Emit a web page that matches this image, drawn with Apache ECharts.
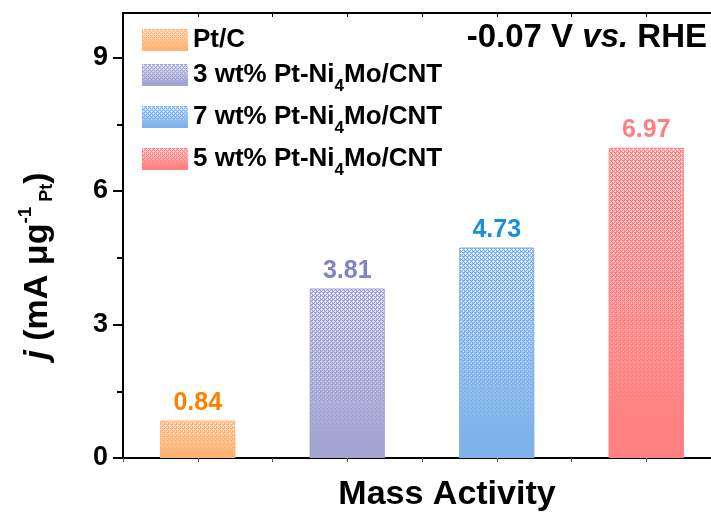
<!DOCTYPE html>
<html><head><meta charset="utf-8">
<script src="https://cdn.jsdelivr.net/npm/echarts@6/dist/echarts.min.js"></script>
<style>html,body{margin:0;padding:0;background:#fff}#c{width:711px;height:516px}</style>
</head><body><div id="c"></div>
<script>
// ---- data ----
const categories = ['Pt/C', '3 wt% Pt-Ni4Mo/CNT', '7 wt% Pt-Ni4Mo/CNT', '5 wt% Pt-Ni4Mo/CNT'];
const values = [0.84, 3.81, 4.73, 6.97];
const yTickValues = [0, 3, 6, 9];
const yMinorTickValues = [1.5, 4.5, 7.5];
const yLabels = ['0', '3', '6', '9'];
const xAxisTitle = 'Mass Activity';
const cornerNote = ['-0.07 V ', 'vs.', ' RHE'];

// ---- styles ----
const barColors = ['#FFB273', '#A4A4D4', '#7FB2EA', '#FF8080'];
const labelColors = ['#FF8000', '#8282C6', '#1A8FDC', '#FF8080'];
const FONT = '"Liberation Sans", Arial, sans-serif';

function hexToRgb(h) {
  const n = parseInt(h.slice(1), 16);
  return [(n >> 16) & 255, (n >> 8) & 255, n & 255];
}
function rgba(h, a) { const c = hexToRgb(h); return 'rgba(' + c[0] + ',' + c[1] + ',' + c[2] + ',' + a + ')'; }

function drawDots(g, w, h) {
  for (let y = 0; y < h; y += 4) {
    for (let x = 0; x < w; x += 4) {
      [[1, 1], [3, 3]].forEach(function (p) {
        const cx = x + p[0], cy = y + p[1];
        g.fillStyle = 'rgba(255,255,255,0.9)';
        g.fillRect(cx, cy, 1, 1);
        g.fillStyle = 'rgba(255,255,255,0.6)';
        g.fillRect(cx - 1, cy, 1, 1); g.fillRect(cx + 1, cy, 1, 1);
        g.fillRect(cx, cy - 1, 1, 1); g.fillRect(cx, cy + 1, 1, 1);
      });
    }
  }
}
function makePattern(hex) {
  const c = document.createElement('canvas');
  c.width = 4; c.height = 4;
  const g = c.getContext('2d');
  g.fillStyle = hex; g.fillRect(0, 0, 4, 4);
  drawDots(g, 4, 4);
  return c;
}
function fadeStops(hex) {
  return [
    { offset: 0, color: rgba(hex, 0) },
    { offset: 0.45, color: rgba(hex, 0.45) },
    { offset: 0.9, color: rgba(hex, 1) },
    { offset: 1, color: rgba(hex, 1) }
  ];
}
function makeSwatch(hex) {
  const w = 46, h = 22;
  const c = document.createElement('canvas');
  c.width = w; c.height = h;
  const g = c.getContext('2d');
  g.fillStyle = hex; g.fillRect(0, 0, w, h);
  drawDots(g, w, h);
  const gr = g.createLinearGradient(0, 0, 0, h);
  fadeStops(hex).forEach(function (s) { gr.addColorStop(s.offset, s.color); });
  g.fillStyle = gr; g.fillRect(0, 0, w, h);
  return 'image://' + c.toDataURL();
}

const series = [];
categories.forEach(function (name, i) {
  const data = values.map(function (v, j) { return j === i ? v : '-'; });
  series.push({
    type: 'bar', name: name, data: data, barWidth: 75, barGap: '-100%',
    xAxisIndex: 0, yAxisIndex: 0, z: 2,
    itemStyle: { color: { image: makePattern(barColors[i]), repeat: 'repeat' }, borderColor: barColors[i], borderWidth: 1 },
    label: { show: true, position: 'top', distance: 5, color: labelColors[i], fontSize: 25, fontWeight: 'bold', fontFamily: FONT },
    emphasis: { disabled: true }
  });
  series.push({
    type: 'bar', name: name + ' ', data: data, barWidth: 75, barGap: '-100%',
    xAxisIndex: 0, yAxisIndex: 0, z: 3, silent: true,
    itemStyle: { color: { type: 'linear', x: 0, y: 0, x2: 0, y2: 1, colorStops: fadeStops(barColors[i]) } },
    emphasis: { disabled: true }
  });
});

const chart = echarts.init(document.getElementById('c'), null, { renderer: 'canvas' });
chart.setOption({
  animation: false,
  backgroundColor: '#fff',
  grid: { left: 123, top: 13, width: 598, height: 445, containLabel: false, outerBoundsMode: 'none' },
  legend: {
    orient: 'vertical', left: 137, top: 22, itemWidth: 46, itemHeight: 22, itemGap: 2,
    selectedMode: false,
    data: categories.map(function (n, i) { return { name: n, icon: makeSwatch(barColors[i]) }; }),
    formatter: function (n) { return '{b|' + n.replace('Ni4', 'Ni}{s|4}{b|') + '}'; },
    textStyle: {
      padding: [0, 0, 0, 0],
      rich: {
        b: { fontSize: 26, fontWeight: 'bold', fontFamily: FONT, color: '#000', lineHeight: 26 },
        s: { fontSize: 17, fontWeight: 'bold', fontFamily: FONT, color: '#000', lineHeight: 17, padding: [23, 0, 0, 0] }
      }
    }
  },
  xAxis: [
    { type: 'category', data: categories, position: 'bottom',
      axisLine: { show: true, onZero: false, lineStyle: { color: '#000', width: 2 } },
      axisTick: { show: false }, axisLabel: { show: false }, splitLine: { show: false } },
    { type: 'value', min: 0, max: 8, interval: 1, position: 'bottom',
      axisLine: { show: false }, axisTick: { show: true, length: 4, lineStyle: { color: '#555', width: 1 } },
      axisLabel: { show: false }, splitLine: { show: false } },
    { type: 'value', min: 0, max: 8, interval: 1, position: 'top',
      axisLine: { show: true, onZero: false, lineStyle: { color: '#000', width: 2 } },
      axisTick: { show: true, inside: true, length: 4, lineStyle: { color: '#000', width: 1 } },
      axisLabel: { show: false }, splitLine: { show: false } }
  ],
  yAxis: [
    { type: 'value', min: 0, max: 10, position: 'left',
      axisLine: { show: true, onZero: false, lineStyle: { color: '#000', width: 2 } },
      axisTick: { show: true, customValues: yTickValues, length: 10, lineStyle: { color: '#000', width: 2 } },
      axisLabel: { show: true, customValues: yTickValues, margin: 15, fontSize: 27, fontWeight: 'bold', color: '#000', fontFamily: FONT,
        formatter: function (v) { const k = yTickValues.indexOf(v); return k >= 0 ? yLabels[k] : ''; } },
      splitLine: { show: false } },
    { type: 'value', min: 0, max: 10, position: 'left',
      axisLine: { show: false, onZero: false },
      axisTick: { show: true, customValues: yMinorTickValues, length: 6, lineStyle: { color: '#000', width: 2 } },
      axisLabel: { show: false }, splitLine: { show: false } }
  ],
  graphic: [
    { type: 'text', x: 447, y: 495, z: 10,
      style: { text: xAxisTitle, font: 'bold 34px ' + FONT, fill: '#000', align: 'center', verticalAlign: 'middle' } },
    { type: 'text', x: 707, y: 38, z: 10,
      style: { text: '{b|' + cornerNote[0] + '}{i|' + cornerNote[1] + '}{b|' + cornerNote[2] + '}', align: 'right', verticalAlign: 'middle', fill: '#000',
        rich: {
          b: { fontSize: 33, fontWeight: 'bold', fontFamily: FONT, color: '#000' },
          i: { fontSize: 33, fontWeight: 'bold', fontStyle: 'italic', fontFamily: FONT, color: '#000' }
        } } },
    { type: 'text', x: 38, y: 266, rotation: Math.PI / 2, z: 10,
      style: { text: '{i|j}{b| (mA \u03bcg}{sup|-1}{sub| Pt}{b|)}', align: 'center', verticalAlign: 'middle', fill: '#000',
        rich: {
          i: { fontSize: 34, fontWeight: 'bold', fontStyle: 'italic', fontFamily: FONT, color: '#000', lineHeight: 34 },
          b: { fontSize: 34, fontWeight: 'bold', fontFamily: FONT, color: '#000', lineHeight: 34 },
          sup: { fontSize: 19, fontWeight: 'bold', fontFamily: FONT, color: '#000', lineHeight: 19, padding: [0, 0, 24, 0] },
          sub: { fontSize: 18, fontWeight: 'bold', fontFamily: FONT, color: '#000', lineHeight: 18, padding: [18, 0, 0, 0] }
        } } }
  ],
  series: series
});
</script>
</body></html>
